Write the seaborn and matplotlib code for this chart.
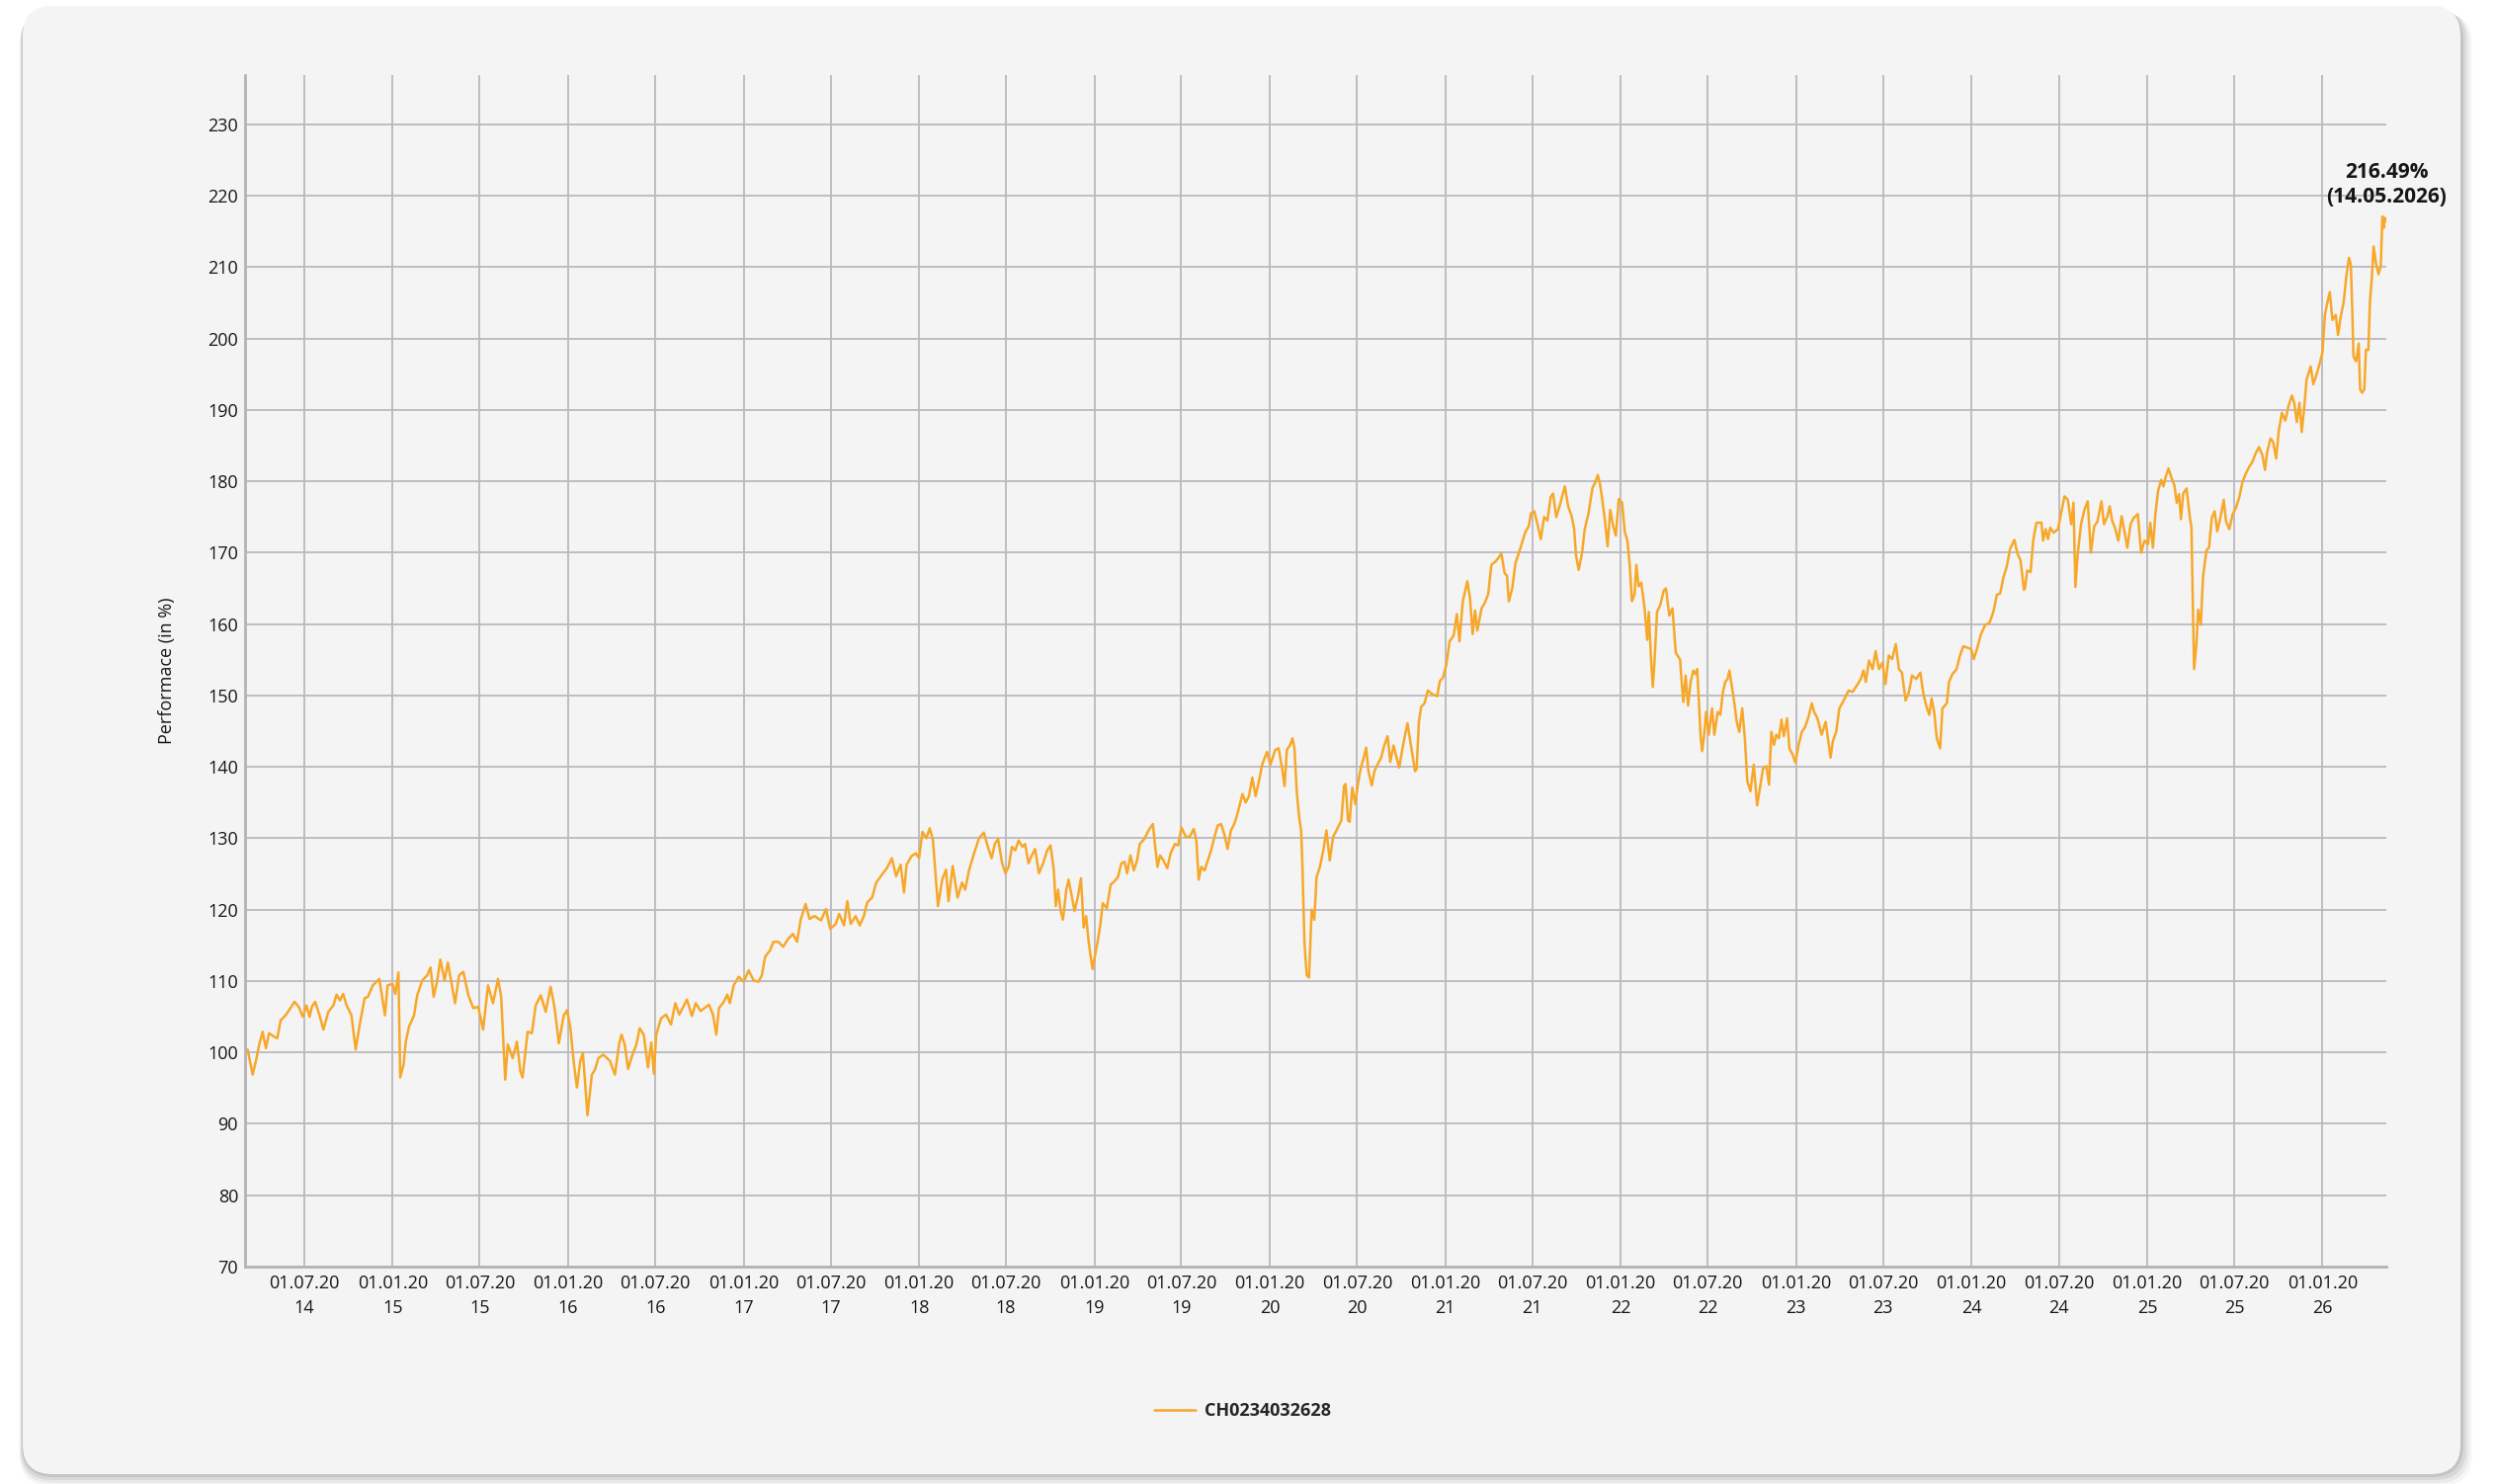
import pandas as pd
import matplotlib
matplotlib.use("Agg")
import matplotlib.pyplot as plt
from matplotlib.patches import FancyBboxPatch
import seaborn as sns

# Performance series.
# Dates are given as decimal years, values in % (start = 100).
t_2014_16 = [
    2014.158, 2014.173, 2014.201, 2014.220, 2014.239, 2014.258, 2014.277, 2014.295, 2014.324, 2014.342,
    2014.361, 2014.389, 2014.417, 2014.440, 2014.464, 2014.487, 2014.508, 2014.526, 2014.539, 2014.558,
    2014.583, 2014.605, 2014.633, 2014.662, 2014.680, 2014.699, 2014.718, 2014.737, 2014.765, 2014.789,
    2014.812, 2014.840, 2014.859, 2014.887, 2014.924, 2014.956, 2014.971, 2015.000, 2015.015, 2015.033,
    2015.043, 2015.062, 2015.075, 2015.093, 2015.122, 2015.140, 2015.169, 2015.197, 2015.216, 2015.234,
    2015.253, 2015.272, 2015.296, 2015.315, 2015.338, 2015.356, 2015.379, 2015.403, 2015.432, 2015.460,
    2015.488, 2015.516, 2015.544, 2015.572, 2015.601, 2015.619, 2015.642, 2015.657, 2015.685, 2015.709,
    2015.728, 2015.741, 2015.770, 2015.794, 2015.816, 2015.845, 2015.873, 2015.901, 2015.924, 2015.948,
    2015.976, 2015.995, 2016.014, 2016.032, 2016.051, 2016.070, 2016.085, 2016.111, 2016.136, 2016.154,
    2016.173, 2016.201, 2016.239, 2016.267, 2016.292,
]
v_2014_16 = [
    100.0, 100.4, 96.9, 98.8, 101.1, 102.9, 100.6, 102.7, 102.2, 102.0,
    104.5, 105.2, 106.2, 107.1, 106.4, 105.0, 106.6, 105.0, 106.4, 107.1,
    105.2, 103.2, 105.7, 106.6, 108.1, 107.3, 108.2, 106.6, 105.2, 100.4,
    103.9, 107.6, 107.8, 109.4, 110.3, 105.2, 109.4, 109.6, 108.2, 111.2,
    96.5, 98.3, 101.5, 103.6, 105.2, 108.0, 110.1, 110.8, 111.9, 107.8,
    109.9, 113.0, 110.1, 112.6, 109.4, 106.9, 110.8, 111.3, 108.0, 106.2,
    106.4, 103.2, 109.4, 106.9, 110.3, 107.8, 96.2, 101.1, 99.2, 101.5,
    97.4, 96.5, 102.9, 102.7, 106.6, 108.0, 105.7, 109.2, 106.2, 101.3,
    105.2, 105.9, 103.4, 98.8, 95.1, 98.8, 99.9, 91.2, 96.9, 97.6,
    99.2, 99.7, 98.8, 96.9, 101.3,
]

t_2016_18 = [
    2016.305, 2016.323, 2016.342, 2016.367, 2016.389, 2016.408, 2016.431, 2016.455, 2016.474, 2016.489,
    2016.502, 2016.530, 2016.558, 2016.586, 2016.611, 2016.633, 2016.677, 2016.705, 2016.727, 2016.755,
    2016.802, 2016.825, 2016.844, 2016.859, 2016.887, 2016.906, 2016.921, 2016.943, 2016.971, 2017.000,
    2017.028, 2017.056, 2017.084, 2017.103, 2017.122, 2017.150, 2017.169, 2017.197, 2017.225, 2017.253,
    2017.281, 2017.304, 2017.324, 2017.353, 2017.375, 2017.403, 2017.441, 2017.469, 2017.493, 2017.525,
    2017.544, 2017.572, 2017.591, 2017.610, 2017.638, 2017.662, 2017.685, 2017.704, 2017.732, 2017.756,
    2017.788, 2017.816, 2017.845, 2017.869, 2017.895, 2017.914, 2017.929, 2017.957, 2017.982, 2018.000,
    2018.019, 2018.042, 2018.061, 2018.079, 2018.108, 2018.132, 2018.154, 2018.168, 2018.192, 2018.220,
    2018.245, 2018.263, 2018.286, 2018.314, 2018.342, 2018.370, 2018.395,
]
v_2016_18 = [
    102.5, 101.1, 97.7, 99.7, 101.1, 103.4, 102.5, 97.9, 101.4, 97.0,
    102.5, 104.8, 105.3, 103.9, 106.9, 105.3, 107.4, 105.1, 106.9, 105.8,
    106.7, 105.3, 102.5, 106.2, 107.1, 108.1, 106.9, 109.4, 110.6, 109.9,
    111.5, 110.1, 109.9, 110.8, 113.4, 114.3, 115.5, 115.5, 114.8, 115.9,
    116.6, 115.5, 118.5, 120.8, 118.7, 119.1, 118.5, 120.1, 117.3, 118.0,
    119.4, 117.8, 121.2, 118.0, 119.1, 117.8, 119.1, 121.0, 121.7, 123.8,
    124.9, 125.8, 127.2, 124.7, 126.3, 122.4, 126.3, 127.5, 127.9, 127.2,
    130.9, 130.0, 131.4, 129.8, 120.5, 124.2, 125.6, 121.2, 126.1, 121.7,
    123.8, 122.8, 125.6, 127.9, 130.0, 130.8, 128.6,
]

t_2018_20 = [
    2018.414, 2018.432, 2018.451, 2018.474, 2018.493, 2018.511, 2018.530, 2018.549, 2018.568, 2018.590,
    2018.605, 2018.624, 2018.643, 2018.662, 2018.684, 2018.708, 2018.731, 2018.750, 2018.769, 2018.780,
    2018.793, 2018.808, 2018.821, 2018.840, 2018.853, 2018.868, 2018.887, 2018.906, 2018.924, 2018.939,
    2018.953, 2018.968, 2018.981, 2018.990, 2019.003, 2019.018, 2019.033, 2019.048, 2019.071, 2019.093,
    2019.112, 2019.135, 2019.154, 2019.172, 2019.187, 2019.206, 2019.225, 2019.244, 2019.259, 2019.285,
    2019.309, 2019.334, 2019.347, 2019.360, 2019.375, 2019.394, 2019.416, 2019.435, 2019.460, 2019.478,
    2019.497, 2019.522, 2019.544, 2019.567, 2019.582, 2019.595, 2019.610, 2019.629, 2019.647, 2019.666,
    2019.685, 2019.704, 2019.723, 2019.741, 2019.760, 2019.779, 2019.798, 2019.816, 2019.845, 2019.863,
    2019.882, 2019.901, 2019.920, 2019.939, 2019.957, 2019.985, 2020.004, 2020.032, 2020.051, 2020.070,
    2020.085, 2020.098, 2020.117, 2020.130, 2020.141, 2020.154, 2020.168, 2020.179, 2020.186, 2020.198,
    2020.211, 2020.224, 2020.239, 2020.254, 2020.267, 2020.286, 2020.305, 2020.323, 2020.342, 2020.361,
    2020.380, 2020.408, 2020.423,
]
v_2018_20 = [
    127.2, 129.2, 129.9, 126.5, 125.1, 126.0, 128.8, 128.3, 129.7, 128.8,
    129.2, 126.5, 127.6, 128.5, 125.1, 126.5, 128.3, 129.0, 125.5, 120.5,
    122.8, 119.8, 118.6, 122.8, 124.2, 122.3, 119.8, 121.8, 124.4, 117.5,
    119.1, 115.4, 113.1, 111.7, 113.5, 115.4, 117.7, 120.9, 120.2, 123.5,
    123.9, 124.6, 126.5, 126.7, 125.1, 127.6, 125.5, 126.9, 129.2, 129.9,
    131.1, 132.0, 128.8, 126.0, 127.6, 126.9, 125.8, 127.9, 129.2, 129.0,
    131.5, 130.2, 130.2, 131.3, 129.7, 124.2, 126.0, 125.5, 126.9, 128.3,
    130.2, 131.8, 132.0, 130.6, 128.5, 131.1, 132.0, 133.4, 136.2, 135.0,
    135.9, 138.5, 135.9, 138.0, 140.3, 142.1, 140.3, 142.4, 142.6, 139.9,
    137.3, 142.4, 143.1, 144.0, 142.6, 136.6, 132.9, 131.1, 126.5, 115.4,
    110.8, 110.5, 120.0, 118.6, 124.6, 126.0, 128.3, 131.1, 126.9, 130.2,
    131.1, 132.5, 137.3,
]

t_2020_22 = [
    2020.432, 2020.446, 2020.455, 2020.470, 2020.487, 2020.502, 2020.517, 2020.534, 2020.549, 2020.562,
    2020.581, 2020.596, 2020.615, 2020.633, 2020.652, 2020.671, 2020.686, 2020.705, 2020.723, 2020.737,
    2020.755, 2020.769, 2020.784, 2020.802, 2020.827, 2020.836, 2020.849, 2020.862, 2020.881, 2020.900,
    2020.924, 2020.953, 2020.968, 2020.986, 2021.005, 2021.024, 2021.047, 2021.065, 2021.080, 2021.099,
    2021.125, 2021.140, 2021.155, 2021.169, 2021.182, 2021.206, 2021.225, 2021.244, 2021.262, 2021.287,
    2021.306, 2021.319, 2021.338, 2021.351, 2021.362, 2021.381, 2021.400, 2021.418, 2021.437, 2021.456,
    2021.475, 2021.488, 2021.507, 2021.525, 2021.544, 2021.563, 2021.582, 2021.600, 2021.614, 2021.632,
    2021.651, 2021.681, 2021.700, 2021.719, 2021.734, 2021.745, 2021.760, 2021.779, 2021.794, 2021.816,
    2021.839, 2021.854, 2021.869, 2021.882, 2021.897, 2021.910, 2021.925, 2021.940, 2021.957, 2021.972,
    2021.989, 2022.008, 2022.023, 2022.038, 2022.051, 2022.064, 2022.079, 2022.089, 2022.102, 2022.117,
    2022.136, 2022.151, 2022.160, 2022.173, 2022.183, 2022.192, 2022.207, 2022.226, 2022.245, 2022.258,
    2022.277, 2022.295, 2022.314, 2022.339,
]
v_2020_22 = [
    137.6, 132.5, 132.3, 137.1, 134.8, 137.6, 139.7, 141.2, 142.7, 139.4,
    137.4, 139.4, 140.4, 141.2, 143.0, 144.3, 140.7, 143.0, 141.2, 139.9,
    142.5, 144.3, 146.1, 143.3, 139.4, 139.7, 146.3, 148.4, 148.9, 150.7,
    150.2, 149.9, 152.0, 152.5, 154.3, 157.6, 158.4, 161.4, 157.6, 163.2,
    166.0, 163.7, 158.6, 161.9, 159.1, 162.2, 163.0, 164.2, 168.3, 168.8,
    169.4, 169.9, 167.1, 166.8, 163.2, 165.0, 168.6, 169.9, 171.4, 172.9,
    173.7, 175.5, 175.8, 174.0, 171.9, 175.0, 174.5, 177.8, 178.3, 175.0,
    176.5, 179.3, 176.5, 175.2, 173.4, 169.6, 167.6, 169.9, 173.2, 175.5,
    179.1, 179.8, 180.9, 179.6, 177.0, 174.5, 170.9, 176.0, 173.7, 172.4,
    177.5, 177.0, 172.9, 171.7, 168.3, 163.2, 164.2, 168.3, 165.3, 165.8,
    162.2, 157.8, 161.7, 155.0, 151.2, 154.5, 161.7, 162.7, 164.7, 165.0,
    161.2, 162.2, 156.0, 155.0,
]

t_2022_24 = [
    2022.342, 2022.357, 2022.370, 2022.384, 2022.399, 2022.414, 2022.427, 2022.436, 2022.446, 2022.455,
    2022.464, 2022.474, 2022.487, 2022.502, 2022.521, 2022.534, 2022.553, 2022.568, 2022.583, 2022.596,
    2022.609, 2022.620, 2022.633, 2022.646, 2022.662, 2022.676, 2022.693, 2022.708, 2022.722, 2022.740,
    2022.759, 2022.778, 2022.797, 2022.812, 2022.831, 2022.846, 2022.859, 2022.874, 2022.887, 2022.902,
    2022.917, 2022.930, 2022.949, 2022.962, 2022.981, 2022.996, 2023.015, 2023.033, 2023.052, 2023.071,
    2023.090, 2023.103, 2023.122, 2023.146, 2023.169, 2023.184, 2023.197, 2023.210, 2023.229, 2023.247,
    2023.272, 2023.300, 2023.323, 2023.347, 2023.369, 2023.385, 2023.398, 2023.416, 2023.437, 2023.454,
    2023.473, 2023.493, 2023.510, 2023.529, 2023.548, 2023.569, 2023.587, 2023.604, 2023.625, 2023.644,
    2023.662, 2023.685, 2023.709, 2023.728, 2023.747, 2023.760, 2023.773, 2023.788, 2023.803, 2023.822,
    2023.835, 2023.860, 2023.873, 2023.892, 2023.916, 2023.935, 2023.954, 2023.976, 2023.999, 2024.014,
    2024.032, 2024.055, 2024.079, 2024.104, 2024.126, 2024.145, 2024.164, 2024.183, 2024.201, 2024.220,
    2024.245, 2024.262, 2024.280, 2024.299,
]
v_2022_24 = [
    153.7, 149.1, 152.8, 148.6, 151.9, 153.5, 153.0, 153.7, 149.1, 144.5,
    142.2, 144.0, 147.7, 144.5, 148.2, 144.5, 147.7, 147.3, 150.5, 151.9,
    152.3, 153.5, 151.4, 149.3, 146.3, 144.9, 148.2, 144.0, 138.0, 136.6,
    140.3, 134.6, 137.5, 139.8, 140.1, 137.5, 144.9, 143.1, 144.5, 144.0,
    146.6, 144.3, 146.8, 142.6, 141.7, 140.6, 143.1, 144.9, 145.6, 147.0,
    148.9, 147.7, 146.8, 144.5, 146.3, 143.6, 141.3, 143.6, 144.9, 148.2,
    149.3, 150.7, 150.5, 151.4, 152.3, 153.5, 151.9, 154.9, 153.7, 156.2,
    153.7, 154.6, 151.6, 155.6, 155.1, 157.2, 153.7, 153.2, 149.3, 150.5,
    152.8, 152.3, 153.2, 150.0, 148.2, 147.3, 149.6, 147.7, 144.0, 142.6,
    148.2, 148.9, 151.9, 153.0, 153.7, 155.6, 156.9, 156.7, 156.5, 155.1,
    156.5, 158.6, 159.9, 160.2, 161.8, 164.1, 164.3, 166.6, 168.0, 170.5,
    171.8, 169.9, 168.9, 164.8,
]

t_2024_26 = [
    2024.305, 2024.318, 2024.337, 2024.352, 2024.370, 2024.399, 2024.408, 2024.423, 2024.436, 2024.449,
    2024.468, 2024.493, 2024.511, 2024.530, 2024.549, 2024.568, 2024.581, 2024.592, 2024.605, 2024.624,
    2024.643, 2024.662, 2024.680, 2024.699, 2024.718, 2024.740, 2024.755, 2024.774, 2024.787, 2024.802,
    2024.817, 2024.836, 2024.855, 2024.874, 2024.887, 2024.906, 2024.924, 2024.947, 2024.966, 2024.985,
    2025.005, 2025.018, 2025.033, 2025.047, 2025.062, 2025.080, 2025.093, 2025.107, 2025.122, 2025.140,
    2025.155, 2025.169, 2025.182, 2025.193, 2025.206, 2025.225, 2025.244, 2025.253, 2025.262, 2025.268,
    2025.281, 2025.291, 2025.306, 2025.319, 2025.338, 2025.353, 2025.369, 2025.385, 2025.400, 2025.418,
    2025.437, 2025.450, 2025.469, 2025.488, 2025.507, 2025.525, 2025.544, 2025.563, 2025.582, 2025.600,
    2025.619, 2025.638, 2025.657, 2025.672, 2025.685, 2025.704, 2025.719, 2025.736, 2025.751, 2025.769,
    2025.788, 2025.807, 2025.826, 2025.839, 2025.854, 2025.869, 2025.882, 2025.897, 2025.910, 2025.933,
    2025.948, 2025.963, 2025.982, 2026.000, 2026.014, 2026.027, 2026.042, 2026.057, 2026.076, 2026.089,
    2026.104, 2026.121, 2026.136, 2026.151, 2026.162, 2026.170, 2026.177, 2026.192, 2026.207, 2026.215,
    2026.226, 2026.239, 2026.248, 2026.262, 2026.271, 2026.282, 2026.292, 2026.305, 2026.320, 2026.333,
    2026.342, 2026.350, 2026.357,
]
v_2024_26 = [
    165.0, 167.5, 167.3, 171.7, 174.2, 174.2, 171.7, 173.3, 171.9, 173.5,
    172.8, 173.3, 175.6, 177.9, 177.4, 174.0, 177.0, 165.2, 169.8, 174.0,
    176.0, 177.2, 170.0, 173.7, 174.4, 177.2, 174.0, 175.1, 176.5, 174.4,
    173.5, 171.7, 175.1, 172.6, 170.7, 174.0, 174.9, 175.4, 170.0, 171.7,
    171.2, 174.2, 170.7, 175.4, 178.6, 180.2, 179.3, 180.7, 181.8, 180.4,
    179.5, 177.0, 178.2, 174.7, 178.3, 179.0, 174.9, 173.5, 161.1, 153.7,
    157.1, 162.0, 159.9, 166.6, 170.3, 170.7, 174.9, 175.8, 173.0, 174.9,
    177.4, 174.4, 173.3, 175.4, 176.3, 177.7, 179.9, 181.1, 182.0, 182.7,
    183.9, 184.8, 183.7, 181.6, 184.1, 186.0, 185.5, 183.2, 187.1, 189.6,
    188.5, 190.6, 192.0, 191.0, 188.3, 191.0, 186.9, 190.6, 194.3, 196.1,
    193.6, 194.7, 196.3, 198.0, 203.3, 204.9, 206.5, 202.6, 203.3, 200.5,
    203.0, 205.1, 208.6, 211.3, 210.4, 204.2, 197.5, 196.8, 199.3, 192.9,
    192.4, 192.9, 198.4, 198.4, 205.1, 208.6, 212.9, 210.6, 209.0, 210.2,
    217.1, 215.5, 216.9,
]

last_date = "2026-05-14"
last_value = 216.49
series_name = "CH0234032628"
y_ticks = list(range(70, 240, 10))


def to_date(t):
    year = int(t)
    start = pd.Timestamp(year=year, month=1, day=1)
    n_days = 366 if pd.Timestamp(year=year, month=12, day=31).dayofyear == 366 else 365
    return start + pd.Timedelta(days=(t - year) * n_days)


years = t_2014_16 + t_2016_18 + t_2018_20 + t_2020_22 + t_2022_24 + t_2024_26
values = v_2014_16 + v_2016_18 + v_2018_20 + v_2020_22 + v_2022_24 + v_2024_26
dates = [to_date(t) for t in years] + [pd.Timestamp(last_date)]
values = values + [last_value]
df = pd.DataFrame({"date": dates, "perf": values})

sns.set_style("white")
plt.rcParams["font.family"] = ["Open Sans", "DejaVu Sans"]

line_color = "#f7a82a"
grid_color = "#b9b9be"
text_color = "#161616"

fig = plt.figure(figsize=(25.25, 15.02), dpi=100)
fig.patch.set_facecolor("white")

# card background with a soft shadow (inches, origin bottom-left)
cx, cy, cw, ch = 0.23, 0.10, 24.67, 14.86
for k, a in [(0.12, 0.035), (0.09, 0.05), (0.06, 0.07), (0.03, 0.09)]:
    fig.patches.append(FancyBboxPatch(
        (cx - k * 0.3, cy - k), cw + k * 1.3, ch + k * 0.4,
        boxstyle="round,pad=0,rounding_size=0.32", transform=fig.dpi_scale_trans,
        facecolor="black", alpha=a, edgecolor="none", zorder=-3))
fig.patches.append(FancyBboxPatch(
    (cx, cy), cw, ch, boxstyle="round,pad=0,rounding_size=0.3",
    transform=fig.dpi_scale_trans, facecolor="#f4f4f4", edgecolor="none", zorder=-2))

ax = fig.add_axes([248 / 2525, 1 - 1282 / 1502, (2415 - 248) / 2525, (1282 - 76) / 1502])
ax.patch.set_alpha(0)
ax.set_zorder(5)

sns.lineplot(data=df, x="date", y="perf", ax=ax, color=line_color, linewidth=1.8,
             estimator=None, label=series_name)

ax.set_xlim(df["date"].iloc[0], df["date"].iloc[-1])
ax.set_ylim(70, 236.9)
ax.set_yticks(y_ticks)

x_ticks = pd.date_range("2014-07-01", "2026-01-01", freq="6MS")
x_labels = [d.strftime("%d.%m.%Y")[:8] + "\n" + d.strftime("%d.%m.%Y")[8:] for d in x_ticks]
ax.set_xticks(x_ticks)
ax.set_xticklabels(x_labels, linespacing=1.45)

ax.grid(True, color=grid_color, linewidth=1.3)
ax.set_axisbelow(True)
for side in ["top", "right"]:
    ax.spines[side].set_visible(False)
for side in ["left", "bottom"]:
    ax.spines[side].set_color("#b3b3b8")
    ax.spines[side].set_linewidth(2.0)

ax.tick_params(axis="both", length=0, labelsize=13, labelcolor=text_color)
ax.tick_params(axis="x", pad=6)
ax.tick_params(axis="y", pad=5)

ax.set_xlabel("")
ax.set_ylabel("Performace (in %)", fontsize=13, color=text_color)
ax.yaxis.set_label_coords(-(248 - 178) / 2167, 0.5)

ax.annotate(f"{last_value:.2f}%\n({pd.Timestamp(last_date):%d.%m.%Y})",
            xy=(df["date"].iloc[-1], last_value), xytext=(0, 13), textcoords="offset pixels",
            ha="center", va="bottom", fontsize=15, fontweight="bold", color=text_color,
            linespacing=1.3, annotation_clip=False)

ax.legend(loc="center", bbox_to_anchor=(0.498, 1 - 1428 / 1502), bbox_transform=fig.transFigure,
          frameon=False, prop={"size": 13, "weight": "bold"}, handlelength=2.3, handletextpad=0.5)

fig.savefig("out.png", dpi=100)
